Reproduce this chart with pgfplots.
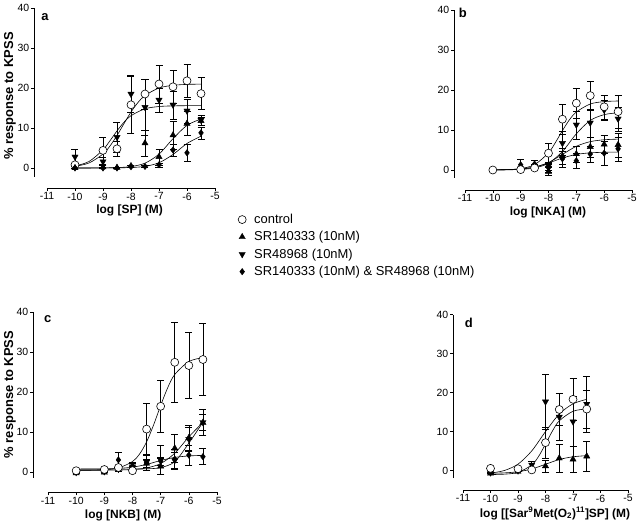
\documentclass[border=0pt]{standalone}
\usepackage{fontspec}
\setmainfont{Liberation Sans}
\usepackage{pgfplots}
\pgfplotsset{compat=1.18}

\tikzset{plabel/.style={font=\bfseries\fontsize{13}{15}\selectfont}}
\pgfplotsset{
  panel/.style={
    scale only axis, clip=false,
    axis lines*=left, axis line style={draw=none},
    xmax=-5, ymax=40,
    xtick={-11,-10,-9,-8,-7,-6,-5},
    xticklabels={-11,-10,-9,-8,-7,-6,-5},
    ytick={0,10,20,30,40},
    yticklabels={0,10,20,30,40},
    tick align=outside, major tick length=3bp,
    tick style={black, line width=0.6bp},
    ticklabel style={font=\fontsize{10.5}{12}\selectfont, inner sep=1.5bp},
    xlabel style={font=\bfseries\fontsize{12}{14}\selectfont},
    ylabel style={font=\bfseries\fontsize{13}{15}\selectfont},
  },
  fit/.style={black, line width=0.6bp, smooth, no markers, forget plot},
  errs/.style={only marks, black,
    error bars/y dir=both, error bars/y explicit,
    error bars/error bar style={line width=0.55bp, black},
    error bars/error mark options={rotate=90, line width=0.55bp, mark size=3.5bp, black},
    legend image code/.code={\draw[##1] plot coordinates {(0bp,0bp)};}},
  ctrl/.style={errs, mark=*, mark size=4bp, mark options={fill=white, draw=black, line width=0.6bp}},
  sra/.style={errs, mark=triangle*, mark size=3.6bp, mark options={fill=black}},
  srb/.style={errs, mark=triangle*, mark size=3.6bp, mark options={fill=black, rotate=180}},
  both/.style={errs, mark=diamond*, mark size=3.2bp, mark options={fill=black}},
}

\begin{document}
\begin{tikzpicture}
\useasboundingbox (0bp,0bp) rectangle (640bp,528bp);

% ---------------- panel a ----------------
\begin{axis}[panel, at={(34bp,340bp)}, anchor=south west,
  width=181bp, height=180bp, xmin=-11.464, ymin=-5,
  xlabel={log [SP] (M)}, xlabel style={at={(ticklabel cs:0.528)}},
  ylabel={\% response to KPSS},
  ylabel style={at={(axis description cs:-0.133,0.511)}, anchor=center},
  legend style={draw=none, fill=none, at={(axis description cs:1.127,-0.133)},
    anchor=north west, font=\fontsize{13}{15.6}\selectfont, row sep=2.5bp,
    inner sep=0pt, /tikz/every odd column/.append style={column sep=6bp}},
  legend cell align=left]
\draw[line width=0.6bp] (axis cs:-11,-5) -- (axis cs:-5,-5);
\draw[line width=0.6bp] (axis cs:-11.464,-2.2) -- (axis cs:-11.464,40);
\node[plabel] at (axis description cs:0.06,0.95) {a};
\addplot[fit] coordinates {(-10,0.41)(-9.5,1.25)(-9,3.49)(-8.75,5.5)(-8.5,8.12)(-8.25,11.1)(-8,13.99)(-7.75,16.38)(-7.5,18.13)(-7,20.0)(-6.5,20.67)(-6,20.9)(-5.5,20.97)};
\addplot[fit] coordinates {(-10,0.5)(-9.5,1.62)(-9,4.55)(-8.75,6.82)(-8.5,9.26)(-8.25,11.45)(-8,13.08)(-7.5,14.8)(-7,15.37)(-6.5,15.53)(-6,15.58)(-5.5,15.6)};
\addplot[fit] coordinates {(-10,0)(-9.5,0.01)(-9,0.03)(-8.5,0.1)(-8,0.36)(-7.5,1.21)(-7,3.47)(-6.5,7.32)(-6,10.67)(-5.5,12.24)};
\addplot[fit] coordinates {(-10,0)(-9.5,0)(-9,0.01)(-8.5,0.04)(-8,0.12)(-7.5,0.41)(-7,1.31)(-6.5,3.38)(-6,6.13)(-5.5,7.95)};
\addplot[ctrl] table[x=x,y=y,y error=e] {
x y e
-10 0.8 0.4
-9 4.4 3.4
-8.5 4.8 1.8
-8 15.8 7.2
-7.5 18.5 3.7
-7 21.0 4.7
-6.5 20.3 4.2
-6 21.8 4.1
-5.5 18.6 4.0
};
\addlegendentry{control}
\addplot[sra] table[x=x,y=y,y error=e] {
x y e
-10 0 0
-9 0.2 0
-8.5 0.1 0
-8 0.5 0.3
-7.5 6.2 3.3
-7 2.8 2.0
-6.5 8.2 3.5
-6 11.1 3.0
-5.5 11.8 1.0
};
\addlegendentry{SR140333 (10nM)}
\addplot[srb] table[x=x,y=y,y error=e] {
x y e
-10 2.8 1.8
-9 1.6 1.0
-8.5 7.7 3.8
-8 18.5 4.6
-7.5 15.2 7.0
-7 17.0 3.0
-6.5 15.8 3.5
-6 14.3 3.0
-5.5 12.0 1.2
};
\addlegendentry{SR48968 (10nM)}
\addplot[both] table[x=x,y=y,y error=e] {
x y e
-10 0 0
-9 0 0
-8.5 0 0
-8 0.3 0
-7.5 0.4 0.3
-7 0.8 0.5
-6.5 4.5 1.5
-6 3.8 2.2
-5.5 8.8 1.5
};
\addlegendentry{SR140333 (10nM) \& SR48968 (10nM)}
\end{axis}

% ---------------- panel b ----------------
\begin{axis}[panel, at={(454bp,338bp)}, anchor=south west,
  width=178bp, height=180bp, xmin=-11.395, ymin=-5,
  xlabel={log [NKA] (M)}, xlabel style={at={(ticklabel cs:0.528)}}]
\draw[line width=0.6bp] (axis cs:-11,-5) -- (axis cs:-5,-5);
\draw[line width=0.6bp] (axis cs:-11.395,-2) -- (axis cs:-11.395,40);
\node[plabel] at (axis description cs:0.05,0.983) {b};
\addplot[fit] coordinates {(-10,0.02)(-9.5,0.09)(-9,0.35)(-8.5,1.33)(-8,4.3)(-7.75,6.89)(-7.5,9.84)(-7.25,12.54)(-7,14.5)(-6.5,16.5)(-6,17.1)(-5.5,17.25)};
\addplot[fit] coordinates {(-10,0.01)(-9.5,0.04)(-9,0.15)(-8.5,0.52)(-8,1.69)(-7.5,4.62)(-7,9.05)(-6.5,12.39)(-6,13.84)(-5.5,14.31)};
\addplot[fit] coordinates {(-10,0.02)(-9.5,0.08)(-9,0.24)(-8.5,0.71)(-8,1.87)(-7.5,3.9)(-7,5.93)(-6.5,7.09)(-6,7.56)(-5.5,7.72)};
\addplot[fit] coordinates {(-10,0.03)(-9.5,0.09)(-9,0.27)(-8.5,0.75)(-8,1.74)(-7.5,3.0)(-7,3.89)(-6.5,4.29)(-6,4.43)(-5.5,4.48)};
\addplot[sra] table[x=x,y=y,y error=e] {
x y e
-10 0 0
-9 0.4 0
-8.5 1.0 0.5
-8 -0.4 1.0
-7.5 3.5 2.0
-7 4.0 2.0
-6.5 5.8 2.5
-6 6.4 2.2
-5.5 6.3 3.0
};
\addplot[srb] table[x=x,y=y,y error=e] {
x y e
-10 0 0
-9 0.3 0
-8.5 0.6 0.4
-8 0.5 1.0
-7.5 6.7 2.9
-7 11.3 3.5
-6.5 11.8 3.5
-6 15.0 2.5
-5.5 12.8 3.0
};
\addplot[both] table[x=x,y=y,y error=e] {
x y e
-10 0 0
-9 1.3 1.5
-8.5 1.5 1.0
-8 1.0 1.0
-7.5 2.8 2.0
-7 2.3 1.8
-6.5 4.0 2.0
-6 4.2 3.0
-5.5 5.3 3.0
};
\addplot[ctrl] table[x=x,y=y,y error=e] {
x y e
-10 0 0
-9 0.1 0
-8.5 0.5 0.3
-8 4.2 2.6
-7.5 12.7 3.8
-7 16.7 3.8
-6.5 18.6 3.6
-6 15.8 3.0
-5.5 14.6 4.2
};
\end{axis}

% ---------------- panel c ----------------
\begin{axis}[panel, at={(33bp,35.7bp)}, anchor=south west,
  width=184bp, height=180bp, xmin=-11.532, ymin=-5,
  xlabel={log [NKB] (M)}, xlabel style={at={(ticklabel cs:0.49)}},
  ylabel={\% response to KPSS},
  ylabel style={at={(axis description cs:-0.125,0.543)}, anchor=center}]
\draw[line width=0.6bp] (axis cs:-11,-5) -- (axis cs:-5,-5);
\draw[line width=0.6bp] (axis cs:-11.532,-1.4) -- (axis cs:-11.532,40);
\node[plabel] at (axis description cs:0.08,0.963) {c};
\addplot[fit] coordinates {(-10,0.5)(-9.5,0.52)(-9,0.65)(-8.5,1.08)(-8,2.69)(-7.75,4.55)(-7.5,7.59)(-7.25,11.85)(-7,16.7)(-6.75,21.15)(-6.5,24.45)(-6,27.7)(-5.5,28.66)};
\addplot[fit] coordinates {(-10,0.5)(-9,0.52)(-8.5,0.56)(-8,0.69)(-7.5,1.09)(-7,2.18)(-6.5,4.77)(-6,8.86)(-5.5,12.49)};
\addplot[fit] coordinates {(-10,0.8)(-9,0.8)(-8,0.81)(-7.5,0.87)(-7,1.17)(-6.5,2.65)(-6,7.28)(-5.5,12.53)};
\addplot[fit] coordinates {(-10,0.81)(-9.5,0.82)(-9,0.85)(-8.5,0.97)(-8,1.28)(-7.5,1.97)(-7,2.95)(-6.5,3.72)(-6,4.09)(-5.5,4.23)};
\addplot[sra] table[x=x,y=y,y error=e] {
x y e
-10 -0.2 0
-9 0 0
-8.5 0.6 0.3
-8 1.0 0.5
-7.5 2.2 1.0
-7 1.5 2.0
-6.5 6.0 3.4
-6 8.6 3.2
-5.5 12.4 2.0
};
\addplot[srb] table[x=x,y=y,y error=e] {
x y e
-10 0 0
-9 0.2 0
-8.5 0.8 0.5
-8 1.4 0.8
-7.5 2.6 2.0
-7 3.1 3.7
-6.5 3.0 2.0
-6 8.3 3.0
-5.5 12.5 3.2
};
\addplot[both] table[x=x,y=y,y error=e] {
x y e
-10 0.3 0
-9 0.6 0
-8.5 3.1 1.9
-8 1.6 1.0
-7.5 2.4 2.0
-7 2.8 1.0
-6.5 3.3 2.5
-6 4.3 2.5
-5.5 3.9 2.0
};
\addplot[ctrl] table[x=x,y=y,y error=e] {
x y e
-10 0.4 0
-9 0.7 0
-8.5 1.2 0.5
-8 0.4 0.5
-7.5 10.8 6.5
-7 16.5 6.5
-6.5 27.5 10.0
-6 26.7 8.3
-5.5 28.2 9.0
};
\end{axis}

% ---------------- panel d ----------------
\begin{axis}[panel, at={(453bp,38bp)}, anchor=south west,
  width=175bp, height=175.3bp, xmin=-11.364, ymin=-4.95,
  xlabel={log [[Sar\textsuperscript{9}Met(O\textsubscript{2})\textsuperscript{11}]SP] (M)},
  xlabel style={at={(ticklabel cs:0.583)}}]
\draw[line width=0.6bp] (axis cs:-11,-4.95) -- (axis cs:-5,-4.95);
\draw[line width=0.6bp] (axis cs:-11.364,-1.9) -- (axis cs:-11.364,40);
\node[plabel] at (axis description cs:0.09,0.953) {d};
\addplot[fit] coordinates {(-10,-0.98)(-9.5,-0.89)(-9,-0.44)(-8.5,1.47)(-8.25,3.68)(-8,6.82)(-7.75,10.15)(-7.5,12.78)(-7,15.24)(-6.5,15.84)};
\addplot[fit] coordinates {(-10,-0.62)(-9.5,0.04)(-9,1.68)(-8.5,5.08)(-8,10.03)(-7.5,14.53)(-7,17.15)(-6.5,18.3)};
\addplot[fit] coordinates {(-10,-0.65)(-9.5,-0.56)(-9,-0.27)(-8.5,0.43)(-8,1.65)(-7.5,2.87)(-7,3.57)(-6.5,3.86)};
\addplot[sra] table[x=x,y=y,y error=e] {
x y e
-10 -0.7 0
-9 -0.2 0
-8.5 0.4 0.3
-8 1.2 1.5
-7.5 3.2 3.5
-7 2.9 3.4
-6.5 3.7 3.9
};
\addplot[srb] table[x=x,y=y,y error=e] {
x y e
-10 -0.5 0
-9 0 0
-8.5 1.5 1.0
-8 17.7 7.0
-7.5 13.8 6.0
-7 12.6 6.4
-6.5 17.1 7.2
};
\addplot[ctrl] table[x=x,y=y,y error=e] {
x y e
-10 0.6 0
-9 0.5 0
-8.5 0.2 0.3
-8 7.2 4.0
-7.5 15.7 4.1
-7 18.3 5.4
-6.5 15.8 4.9
};
\end{axis}
\end{tikzpicture}
\end{document}
